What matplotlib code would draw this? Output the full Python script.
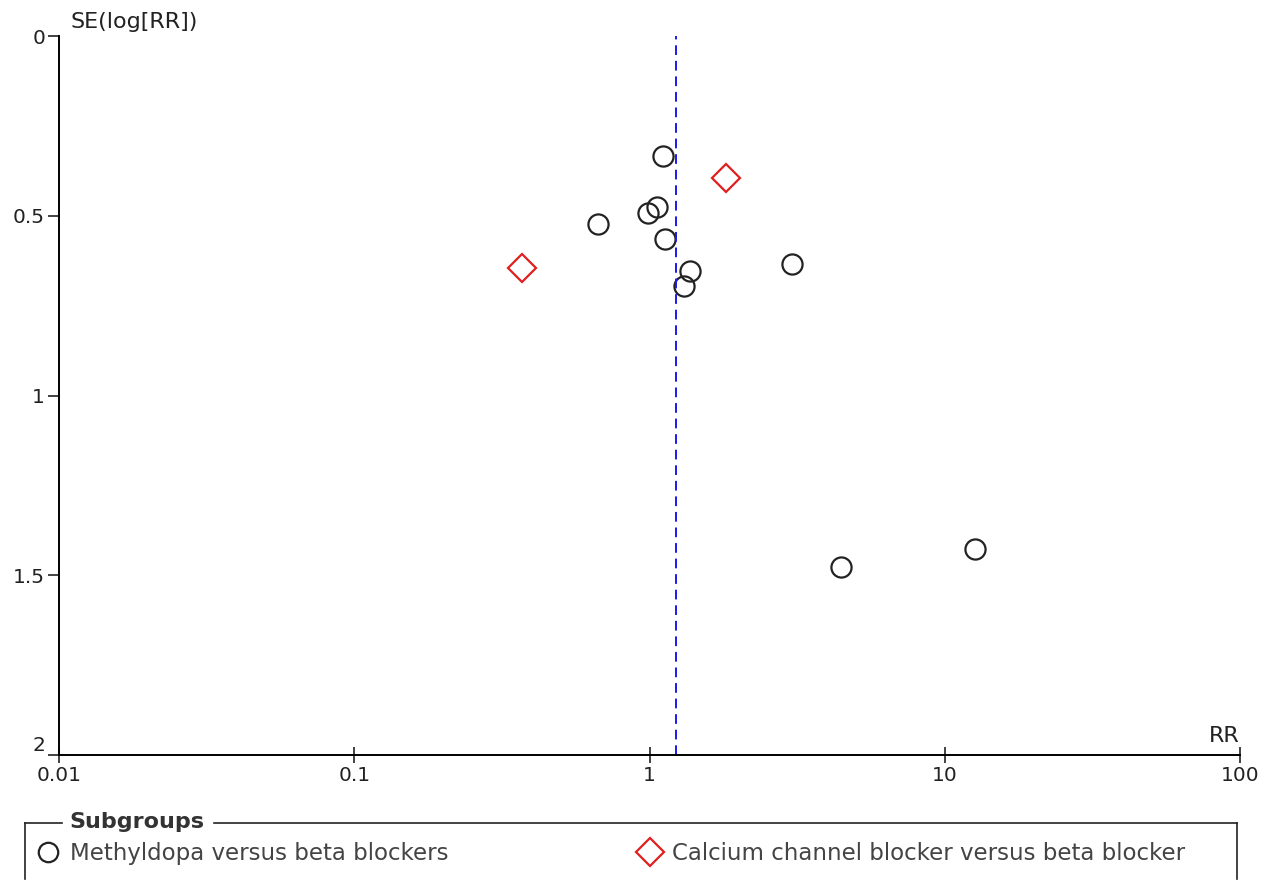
import matplotlib
matplotlib.use('Agg')
import matplotlib.pyplot as plt
from matplotlib.lines import Line2D

# Methyldopa versus beta blockers
methyl_rr = [1.11, 1.06, 0.985, 0.667, 1.13, 1.37, 1.31, 3.03, 12.7, 4.44]
methyl_se = [0.334, 0.476, 0.492, 0.523, 0.565, 0.654, 0.695, 0.634, 1.427, 1.477]

# Calcium channel blocker versus beta blocker
ccb_rr = [1.82, 0.371]
ccb_se = [0.395, 0.645]

pooled_rr = 1.225

x_ticks = [0.01, 0.1, 1, 10, 100]
x_labels = ['0.01', '0.1', '1', '10', '100']
y_ticks = [0, 0.5, 1, 1.5, 2]
y_labels = ['0', '0.5', '1', '1.5', '2']

W, H = 1272, 880
fig = plt.figure(figsize=(W / 100, H / 100), dpi=100)
ax = fig.add_axes([59 / W, 1 - 755 / H, (1240 - 59) / W, (755 - 36) / H])

ax.set_xscale('log')
ax.set_xlim(0.01, 100)
ax.set_ylim(2, 0)

ax.plot(methyl_rr, methyl_se, 'o', ms=14.5, mfc='none', mec='#222222', mew=1.6, clip_on=False)
ax.plot(ccb_rr, ccb_se, 'D', ms=14.5, mfc='none', mec='#e02020', mew=1.6, clip_on=False)
ax.axvline(pooled_rr, color='#1a1aee', ls=(0, (5, 3)), lw=1.4)

for s in ['top', 'right']:
    ax.spines[s].set_visible(False)
for s in ['left', 'bottom']:
    ax.spines[s].set_linewidth(1.4)

ax.set_xticks(x_ticks)
ax.set_xticklabels(x_labels)
ax.xaxis.set_minor_locator(matplotlib.ticker.NullLocator())
ax.set_yticks(y_ticks)
ax.set_yticklabels(y_labels)
ax.tick_params(axis='x', direction='inout', length=12, width=1.2, pad=2, labelsize=14.5, colors='#222222')
ax.tick_params(axis='y', direction='out', length=8, width=1.2, pad=2, labelsize=14.5, colors='#222222')
# nudge the bottom y label up a little so it does not collide with "0.01"
ax.get_yticklabels()[-1].set_verticalalignment('bottom')

ax.text(0.01, 1.005, 'SE(log[RR])', transform=ax.transAxes, fontsize=16, color='#222222', va='bottom', ha='left')
ax.text(1.0, 0.012, 'RR', transform=ax.transAxes, fontsize=16, color='#222222', va='bottom', ha='right')

# legend box
fx = lambda p: p / W
fy = lambda p: 1 - p / H
box_col = '#222222'
top, bot, left, right = 823, 879, 25, 1237
fig.add_artist(Line2D([fx(left), fx(62)], [fy(top), fy(top)], color=box_col, lw=1.2))
fig.add_artist(Line2D([fx(214), fx(right)], [fy(top), fy(top)], color=box_col, lw=1.2))
fig.add_artist(Line2D([fx(left), fx(left)], [fy(top), fy(bot)], color=box_col, lw=1.2))
fig.add_artist(Line2D([fx(right), fx(right)], [fy(top), fy(bot)], color=box_col, lw=1.2))
fig.text(fx(69), fy(822), 'Subgroups', fontsize=16, fontweight='bold', color='#333333', va='center', ha='left')
fig.add_artist(Line2D([fx(48)], [fy(852)], marker='o', ms=14, mfc='none', mec='#222222', mew=1.6))
fig.text(fx(70), fy(853), 'Methyldopa versus beta blockers', fontsize=16.5, color='#444444', va='center', ha='left')
fig.add_artist(Line2D([fx(650)], [fy(852)], marker='D', ms=14, mfc='none', mec='#e02020', mew=1.6))
fig.text(fx(672), fy(853), 'Calcium channel blocker versus beta blocker', fontsize=16.5, color='#444444', va='center', ha='left')

fig.savefig('out.png', dpi=100)
